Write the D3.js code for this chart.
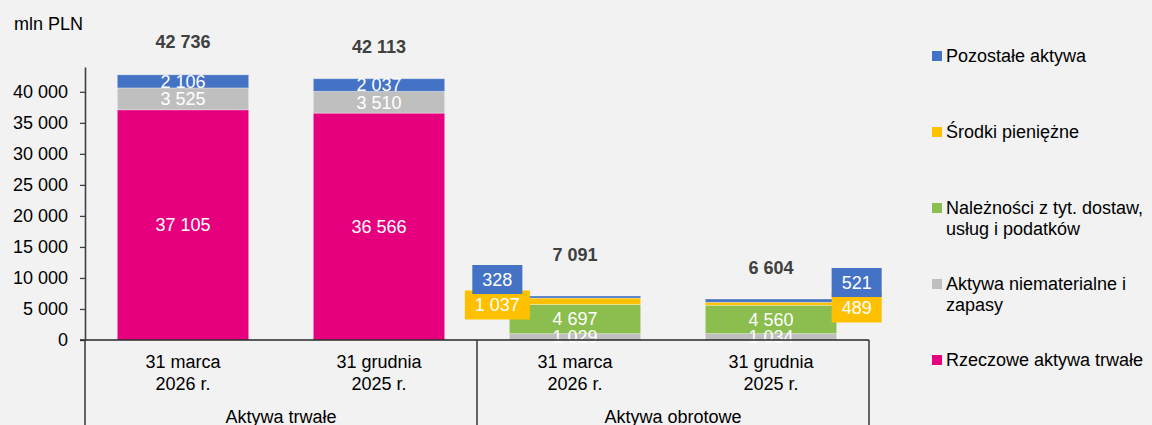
<!DOCTYPE html>
<html><head><meta charset="utf-8">
<script src="https://cdn.jsdelivr.net/npm/d3@7"></script>
<style>
body{margin:0;background:#F2F2F2;overflow:hidden}
text{font-family:"Liberation Sans",Arial,sans-serif}
</style>
</head><body>
<svg id="c" width="1152" height="425"></svg>
<script>
// ---- data ----
const categories = ["k1","k2","k3","k4"];
const categoryLine1 = ["31 marca","31 grudnia","31 marca","31 grudnia"];
const categoryLine2 = ["2026 r.","2025 r.","2026 r.","2025 r."];
const groups = ["Aktywa trwałe","Aktywa obrotowe"];
const groupOfCategory = [0,0,1,1];
const seriesKeys = ["rzeczowe","niematerialne","naleznosci","srodki","pozostale"];
const seriesNames = ["Rzeczowe aktywa trwałe","Aktywa niematerialne i zapasy","Należności z tyt. dostaw, usług i podatków","Środki pieniężne","Pozostałe aktywa"];
const legendLines = [["Rzeczowe aktywa trwałe"],["Aktywa niematerialne i","zapasy"],["Należności z tyt. dostaw,","usług i podatków"],["Środki pieniężne"],["Pozostałe aktywa"]];
const rzeczowe = [37105,36566,0,0];
const niematerialne = [3525,3510,1029,1034];
const naleznosci = [0,0,4697,4560];
const srodki = [0,0,1037,489];
const pozostale = [2106,2037,328,521];
const yTicks = [0,5000,10000,15000,20000,25000,30000,35000,40000];
const unitLabel = "mln PLN";

// ---- style ----
const colors = {rzeczowe:"#E6007E",niematerialne:"#BFBFBF",naleznosci:"#8BBD4F",srodki:"#FFC000",pozostale:"#4472C4"};
const FS = 18;
const totalLabelOffset = [33,32,41,31];
const calloutSide = {2:"left",3:"right"};

const seriesValues = {rzeczowe,niematerialne,naleznosci,srodki,pozostale};
const rows = categories.map((c,i)=>{const r={cat:c,i};seriesKeys.forEach(k=>r[k]=seriesValues[k][i]);return r;});
const stacked = d3.stack().keys(seriesKeys)(rows);
const totals = rows.map(r=>d3.sum(seriesKeys,k=>r[k]));

const locale = d3.formatLocale({decimal:",",thousands:" ",grouping:[3],currency:["","zł"]});
const fmt = locale.format(",d");

const svg = d3.select("#c");
const x = d3.scaleBand().domain(categories).range([85,869]).paddingInner(0.33).paddingOuter(0.165);
const y = d3.scaleLinear().domain([0,44000]).range([340,67]);

// bars
const segs = [];
stacked.forEach((s,si)=>s.forEach((d,ci)=>{ if(d[1]-d[0]>0) segs.push({key:s.key,si,ci,y0:d[0],y1:d[1],v:d[1]-d[0]}); }));

svg.append("g").selectAll("rect").data(segs).join("rect")
  .attr("x",d=>x(categories[d.ci]))
  .attr("width",x.bandwidth())
  .attr("y",d=>y(d.y1))
  .attr("height",d=>y(d.y0)-y(d.y1))
  .attr("fill",d=>colors[d.key])
  .attr("stroke","#fff").attr("stroke-opacity",0.3).attr("stroke-width",1);

// inside labels
const inside = segs.filter(d=>!(calloutSide[d.ci] && (d.key==="srodki"||d.key==="pozostale")));
svg.append("g").selectAll("text").data(inside).join("text")
  .attr("x",d=>x(categories[d.ci])+x.bandwidth()/2)
  .attr("y",d=>y((d.y0+d.y1)/2))
  .attr("dy","0.35em").attr("text-anchor","middle")
  .attr("fill","#fff").attr("font-size",FS)
  .text(d=>fmt(d.v));

// callout labels (yellow first, blue on top)
const callouts = segs.filter(d=>calloutSide[d.ci] && (d.key==="srodki"||d.key==="pozostale"))
  .sort((a,b)=>a.si===3?-1:1);
const cg = svg.append("g");
callouts.forEach(d=>{
  const left = calloutSide[d.ci]==="left";
  const cx = left ? x(categories[d.ci]) - 12 : x(categories[d.ci]) + x.bandwidth() + 20;
  const top = y(totals[d.ci]);
  const cy = d.key==="pozostale" ? top - 16.5 : top + 9;
  const t = cg.append("text").attr("x",cx).attr("y",cy).attr("dy","0.35em")
    .attr("text-anchor","middle").attr("fill","#fff").attr("font-size",FS).text(fmt(d.v));
  const w = t.node().getComputedTextLength() + 20;
  cg.insert("rect",()=>t.node()).attr("x",cx-w/2).attr("y",cy-14.5).attr("width",w).attr("height",29).attr("fill",colors[d.key]);
});

// totals
svg.append("g").selectAll("text").data(totals).join("text")
  .attr("x",(d,i)=>x(categories[i])+x.bandwidth()/2)
  .attr("y",(d,i)=>y(d)-totalLabelOffset[i])
  .attr("dy","0.35em").attr("text-anchor","middle")
  .attr("fill","#404040").attr("font-size",FS).attr("font-weight","bold")
  .text(d=>fmt(d));

// y axis
const ya = svg.append("g").attr("transform","translate(85,0)")
  .call(d3.axisLeft(y).tickValues(yTicks).tickSize(5).tickSizeOuter(0).tickPadding(12).tickFormat(fmt));
ya.selectAll("text").attr("font-size",FS).attr("fill","#000").style("font-family",'"Liberation Sans",Arial,sans-serif');
ya.selectAll("line").attr("stroke","#404040").attr("stroke-width",1.3);
ya.select(".domain").attr("stroke","#404040").attr("stroke-width",1.6);

// x axis & groups
const xl = x.range()[0], xr = x.range()[1];
svg.append("line").attr("x1",80).attr("x2",xr).attr("y1",y(0)).attr("y2",y(0)).attr("stroke","#262626").attr("stroke-width",1.6);
const boundaries = [xl];
for(let i=1;i<categories.length;i++){ if(groupOfCategory[i]!==groupOfCategory[i-1]) boundaries.push((x(categories[i-1])+x.bandwidth()+x(categories[i]))/2); }
boundaries.push(xr);
svg.append("g").selectAll("line").data(boundaries).join("line")
  .attr("x1",d=>d).attr("x2",d=>d).attr("y1",y(0)).attr("y2",425)
  .attr("stroke","#404040").attr("stroke-width",1.6);

const cl = svg.append("g");
categories.forEach((c,i)=>{
  const cx = x(c)+x.bandwidth()/2;
  cl.append("text").attr("x",cx).attr("y",362).attr("dy","0.35em").attr("text-anchor","middle").attr("font-size",FS).attr("fill","#000").text(categoryLine1[i]);
  cl.append("text").attr("x",cx).attr("y",384).attr("dy","0.35em").attr("text-anchor","middle").attr("font-size",FS).attr("fill","#000").text(categoryLine2[i]);
});
groups.forEach((g,gi)=>{
  cl.append("text").attr("x",(boundaries[gi]+boundaries[gi+1])/2).attr("y",417).attr("dy","0.35em")
    .attr("text-anchor","middle").attr("font-size",FS).attr("fill","#000").text(g);
});

// unit
svg.append("text").attr("x",14).attr("y",24).attr("dy","0.35em").attr("font-size",FS).attr("fill","#000").text(unitLabel);

// legend (reverse order)
const lg = svg.append("g");
const order = seriesKeys.map((k,i)=>i).reverse();
order.forEach((si,j)=>{
  const ly = 56 + j*76;
  lg.append("rect").attr("x",932).attr("y",ly-5).attr("width",10).attr("height",10).attr("fill",colors[seriesKeys[si]]);
  legendLines[si].forEach((ln,li)=>{
    lg.append("text").attr("x",946).attr("y",ly+li*21).attr("dy","0.35em").attr("font-size",FS).attr("fill","#000").text(ln);
  });
});
</script>
</body></html>
